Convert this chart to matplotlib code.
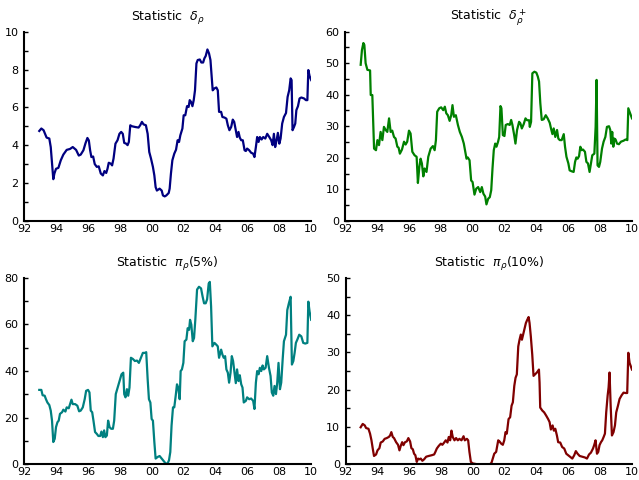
import matplotlib
matplotlib.use("Agg")
import matplotlib.pyplot as plt
from matplotlib.ticker import MultipleLocator, FuncFormatter

# data (decimal year, value)
yr_delta = [1992.94, 1993.07, 1993.21, 1993.40, 1993.57, 1993.66, 1993.76, 1993.82, 1993.89, 1993.99,
            1994.14, 1994.29, 1994.45, 1994.66, 1994.87, 1995.04, 1995.25, 1995.42, 1995.54, 1995.71,
            1995.84, 1995.96, 1996.05, 1996.13, 1996.21, 1996.32, 1996.42, 1996.55, 1996.67, 1996.80,
            1996.93, 1997.03, 1997.14, 1997.22, 1997.30, 1997.43, 1997.51, 1997.60, 1997.72, 1997.85,
            1997.97, 1998.08, 1998.18, 1998.27, 1998.39, 1998.48, 1998.56, 1998.65, 1998.75, 1998.96,
            1999.17, 1999.27, 1999.38, 1999.48, 1999.63, 1999.74, 1999.84, 1999.95, 2000.07, 2000.16,
            2000.24, 2000.32, 2000.49, 2000.62, 2000.70, 2000.81, 2000.91, 2001.06, 2001.12, 2001.20,
            2001.29, 2001.41, 2001.52, 2001.62, 2001.71, 2001.79, 2001.92, 2002.00, 2002.10, 2002.21,
            2002.31, 2002.38, 2002.46, 2002.55, 2002.63, 2002.71, 2002.80, 2002.88, 2003.01, 2003.11,
            2003.22, 2003.30, 2003.38, 2003.49, 2003.59, 2003.68, 2003.76, 2003.82, 2003.93, 2004.05,
            2004.14, 2004.22, 2004.35, 2004.43, 2004.56, 2004.68, 2004.77, 2004.87, 2004.98, 2005.08,
            2005.17, 2005.27, 2005.35, 2005.44, 2005.52, 2005.61, 2005.71, 2005.82, 2005.90, 2005.98,
            2006.11, 2006.23, 2006.36, 2006.44, 2006.53, 2006.61, 2006.70, 2006.78, 2006.89, 2006.99,
            2007.12, 2007.24, 2007.37, 2007.49, 2007.58, 2007.66, 2007.74, 2007.83, 2007.91, 2008.00,
            2008.08, 2008.18, 2008.29, 2008.42, 2008.52, 2008.62, 2008.71, 2008.77, 2008.83, 2008.92,
            2009.00, 2009.07, 2009.17, 2009.27, 2009.38, 2009.55, 2009.67, 2009.76, 2009.82, 2009.90,
            2010.00]
val_delta = [4.75, 4.88, 4.79, 4.4, 4.35, 3.9, 2.85, 2.2, 2.5, 2.75,
             2.8, 3.2, 3.5, 3.75, 3.8, 3.9, 3.75, 3.45, 3.5, 3.73,
             4.1, 4.38, 4.25, 3.73, 3.37, 3.4, 3.0, 2.85, 2.88, 2.5,
             2.4, 2.63, 2.53, 2.75, 3.07, 3.02, 2.93, 3.29, 4.08, 4.26,
             4.6, 4.7, 4.6, 4.12, 4.08, 4.0, 4.17, 5.05, 5.0, 4.96,
             4.93, 5.05, 5.23, 5.1, 5.05, 4.6, 3.64, 3.29, 2.85, 2.4,
             1.78, 1.6, 1.7, 1.6, 1.34, 1.29, 1.34, 1.47, 1.7, 2.49,
             3.2, 3.55, 3.76, 4.26, 4.17, 4.52, 4.88, 5.58, 5.58, 6.06,
             6.02, 6.38, 6.29, 6.06, 6.38, 6.9, 8.32, 8.5, 8.53, 8.37,
             8.37, 8.59, 8.71, 9.06, 8.85, 8.5, 7.61, 6.9, 7.0, 7.05,
             6.9, 5.76, 5.76, 5.49, 5.46, 5.4, 5.05, 4.79, 4.96, 5.35,
             5.23, 4.79, 4.43, 4.7, 4.4, 4.26, 4.26, 3.73, 3.69, 3.82,
             3.73, 3.6, 3.55, 3.37, 3.9, 4.43, 4.17, 4.43, 4.3, 4.43,
             4.35, 4.6, 4.43, 4.26, 4.0, 4.6, 3.9, 4.26, 4.65, 4.08,
             4.35, 5.14, 5.49, 5.7, 6.55, 6.9, 7.53, 7.44, 4.79, 4.96,
             5.14, 5.85, 6.06, 6.47, 6.52, 6.47, 6.38, 6.38, 7.97, 7.65,
             7.44]

yr_dplus = [1992.98, 1993.06, 1993.15, 1993.21, 1993.29, 1993.40, 1993.57, 1993.61, 1993.71, 1993.82,
            1993.94, 1994.03, 1994.13, 1994.23, 1994.34, 1994.44, 1994.55, 1994.65, 1994.76, 1994.86,
            1994.96, 1995.07, 1995.17, 1995.28, 1995.36, 1995.44, 1995.57, 1995.70, 1995.80, 1995.90,
            1996.01, 1996.11, 1996.22, 1996.36, 1996.49, 1996.57, 1996.66, 1996.74, 1996.82, 1996.91,
            1996.99, 1997.11, 1997.22, 1997.37, 1997.51, 1997.62, 1997.70, 1997.78, 1997.91, 1998.03,
            1998.16, 1998.26, 1998.35, 1998.45, 1998.56, 1998.66, 1998.74, 1998.83, 1998.95, 1999.08,
            1999.20, 1999.33, 1999.45, 1999.54, 1999.62, 1999.70, 1999.81, 1999.91, 2000.00, 2000.12,
            2000.23, 2000.35, 2000.48, 2000.58, 2000.68, 2000.79, 2000.87, 2000.98, 2001.08, 2001.17,
            2001.25, 2001.33, 2001.42, 2001.50, 2001.60, 2001.67, 2001.75, 2001.81, 2001.90, 2002.00,
            2002.08, 2002.21, 2002.33, 2002.42, 2002.50, 2002.61, 2002.69, 2002.79, 2002.92, 2003.00,
            2003.09, 2003.21, 2003.32, 2003.42, 2003.55, 2003.59, 2003.67, 2003.75, 2003.88, 2004.00,
            2004.09, 2004.17, 2004.25, 2004.34, 2004.46, 2004.59, 2004.71, 2004.84, 2004.92, 2005.01,
            2005.09, 2005.19, 2005.30, 2005.38, 2005.47, 2005.59, 2005.72, 2005.80, 2005.89, 2006.01,
            2006.09, 2006.22, 2006.34, 2006.43, 2006.51, 2006.59, 2006.68, 2006.76, 2006.84, 2006.93,
            2007.05, 2007.14, 2007.24, 2007.34, 2007.43, 2007.51, 2007.64, 2007.72, 2007.78, 2007.84,
            2007.93, 2008.01, 2008.12, 2008.22, 2008.33, 2008.43, 2008.56, 2008.64, 2008.70, 2008.76,
            2008.83, 2008.89, 2008.97, 2009.06, 2009.18, 2009.31, 2009.47, 2009.60, 2009.71, 2009.77,
            2009.85, 2010.00]
val_dplus = [49.5, 54.2, 56.4, 55.8, 50.0, 47.9, 47.7, 39.9, 39.9, 22.9,
             22.4, 25.6, 24.0, 28.2, 25.6, 29.8, 28.8, 28.2, 32.5, 28.2,
             28.6, 26.6, 26.1, 23.5, 23.2, 21.3, 22.6, 25.1, 24.2, 25.1,
             28.6, 27.7, 21.9, 20.8, 20.3, 12.0, 17.1, 19.7, 18.2, 14.1,
             16.6, 15.5, 20.3, 22.9, 23.7, 22.4, 25.6, 34.6, 35.7, 36.0,
             35.1, 36.2, 34.1, 33.5, 31.7, 33.5, 36.7, 33.0, 33.5, 30.4,
             28.2, 26.6, 24.5, 21.9, 19.7, 20.1, 19.2, 12.8, 12.3, 8.3,
             10.2, 10.7, 9.1, 10.7, 8.6, 7.7, 5.2, 7.0, 7.5, 9.7,
             16.6, 22.4, 24.5, 23.5, 25.1, 26.6, 36.4, 35.7, 27.2, 26.9,
             30.4, 30.7, 30.4, 32.0, 30.4, 27.2, 24.5, 28.8, 31.4, 30.9,
             29.3, 30.7, 32.5, 31.9, 31.9, 29.8, 31.4, 46.8, 47.3, 47.0,
             45.8, 44.2, 37.3, 32.0, 32.2, 33.5, 32.5, 31.1, 29.3, 27.5,
             29.3, 26.6, 28.8, 26.1, 25.6, 25.6, 27.5, 23.5, 20.3, 18.2,
             16.0, 15.7, 15.5, 18.7, 20.1, 19.7, 20.5, 23.5, 22.4, 22.6,
             21.9, 18.7, 18.2, 15.5, 18.2, 20.8, 21.3, 29.8, 44.7, 17.6,
             17.1, 18.7, 22.9, 25.1, 26.6, 29.8, 30.0, 28.8, 24.5, 28.2,
             23.5, 26.1, 25.8, 24.5, 24.3, 25.1, 25.4, 25.8, 25.6, 35.7,
             34.6, 32.5]

yr_pi5 = [1992.94, 1993.07, 1993.15, 1993.28, 1993.36, 1993.45, 1993.57, 1993.66, 1993.74, 1993.82,
          1993.91, 1993.99, 1994.08, 1994.16, 1994.24, 1994.37, 1994.45, 1994.58, 1994.66, 1994.79,
          1994.87, 1994.96, 1995.04, 1995.19, 1995.33, 1995.44, 1995.54, 1995.67, 1995.79, 1995.88,
          1996.00, 1996.09, 1996.17, 1996.26, 1996.34, 1996.44, 1996.55, 1996.65, 1996.76, 1996.84,
          1996.93, 1997.01, 1997.09, 1997.18, 1997.26, 1997.35, 1997.45, 1997.56, 1997.64, 1997.74,
          1997.89, 1998.02, 1998.10, 1998.21, 1998.27, 1998.35, 1998.44, 1998.52, 1998.60, 1998.69,
          1998.81, 1998.94, 1999.07, 1999.19, 1999.32, 1999.44, 1999.57, 1999.65, 1999.74, 1999.82,
          1999.91, 1999.99, 2000.07, 2000.16, 2000.24, 2000.37, 2000.49, 2000.62, 2000.74, 2000.87,
          2000.99, 2001.08, 2001.16, 2001.24, 2001.33, 2001.41, 2001.50, 2001.58, 2001.66, 2001.75,
          2001.81, 2001.89, 2001.98, 2002.06, 2002.17, 2002.25, 2002.34, 2002.40, 2002.48, 2002.57,
          2002.65, 2002.73, 2002.84, 2002.96, 2003.09, 2003.19, 2003.28, 2003.38, 2003.47, 2003.57,
          2003.64, 2003.72, 2003.80, 2003.93, 2004.05, 2004.14, 2004.22, 2004.35, 2004.43, 2004.51,
          2004.60, 2004.68, 2004.77, 2004.85, 2004.94, 2005.02, 2005.10, 2005.19, 2005.27, 2005.35,
          2005.44, 2005.52, 2005.61, 2005.69, 2005.77, 2005.90, 2005.98, 2006.11, 2006.23, 2006.36,
          2006.44, 2006.53, 2006.61, 2006.70, 2006.78, 2006.87, 2006.95, 2007.03, 2007.14, 2007.24,
          2007.35, 2007.45, 2007.53, 2007.62, 2007.70, 2007.79, 2007.87, 2007.95, 2008.04, 2008.12,
          2008.21, 2008.29, 2008.42, 2008.50, 2008.60, 2008.71, 2008.79, 2008.88, 2008.96, 2009.04,
          2009.13, 2009.25, 2009.38, 2009.50, 2009.63, 2009.76, 2009.82, 2009.90, 2010.00]
val_pi5 = [31.9, 31.9, 29.6, 29.4, 27.9, 26.5, 25.4, 23.0, 18.7, 9.5,
           10.9, 15.9, 18.0, 18.7, 21.6, 22.3, 23.4, 22.6, 24.4, 24.0,
           25.8, 27.7, 25.8, 25.8, 25.1, 22.7, 23.0, 24.4, 27.9, 31.5,
           31.9, 30.8, 23.0, 22.3, 18.7, 13.8, 13.0, 12.1, 12.1, 14.0,
           11.6, 14.5, 11.6, 12.3, 18.7, 15.9, 15.2, 15.2, 18.7, 30.1,
           33.6, 36.5, 38.6, 39.3, 30.1, 28.7, 32.2, 29.4, 32.9, 45.7,
           45.2, 44.3, 44.5, 43.5, 45.7, 47.8, 47.8, 48.1, 36.5, 27.9,
           26.5, 19.4, 18.7, 9.5, 2.4, 3.1, 3.5, 2.4, 1.4, 0.3,
           0.3, 1.7, 5.2, 16.6, 24.4, 24.4, 29.4, 34.3, 32.9, 27.9,
           40.0, 40.7, 43.5, 52.8, 53.5, 58.4, 57.7, 62.0, 59.9, 52.8,
           54.2, 62.0, 75.0, 76.2, 75.5, 71.9, 69.1, 69.1, 70.8, 77.6,
           78.3, 67.7, 50.6, 52.1, 51.3, 50.6, 45.7, 49.2, 47.1, 45.7,
           46.4, 40.7, 39.3, 35.0, 39.3, 46.4, 44.3, 39.3, 34.8, 40.7,
           35.7, 38.2, 34.3, 32.9, 26.5, 27.2, 28.7, 27.9, 28.2, 27.2,
           23.7, 35.0, 40.0, 38.6, 41.4, 40.0, 42.4, 40.7, 41.4, 46.4,
           41.4, 37.9, 30.8, 29.4, 33.6, 30.1, 35.0, 43.5, 32.2, 35.0,
           45.0, 52.8, 55.6, 66.2, 69.1, 71.9, 42.8, 44.3, 47.8, 52.1,
           53.5, 55.6, 54.9, 52.1, 51.8, 52.1, 69.8, 65.5, 62.0]

yr_pi10 = [1992.94, 1993.07, 1993.20, 1993.28, 1993.43, 1993.53, 1993.62, 1993.70, 1993.78, 1993.91,
           1994.00, 1994.12, 1994.20, 1994.33, 1994.45, 1994.58, 1994.71, 1994.79, 1994.87, 1994.96,
           1995.04, 1995.17, 1995.29, 1995.38, 1995.46, 1995.55, 1995.63, 1995.73, 1995.84, 1995.94,
           1996.05, 1996.13, 1996.22, 1996.30, 1996.38, 1996.47, 1996.55, 1996.64, 1996.72, 1996.82,
           1996.93, 1997.06, 1997.22, 1997.41, 1997.56, 1997.64, 1997.73, 1997.85, 1997.98, 1998.08,
           1998.19, 1998.29, 1998.40, 1998.48, 1998.57, 1998.65, 1998.73, 1998.84, 1998.94, 1999.05,
           1999.15, 1999.28, 1999.41, 1999.49, 1999.62, 1999.70, 1999.78, 1999.87, 1999.99, 2000.24,
           2000.66, 2001.08, 2001.17, 2001.25, 2001.34, 2001.46, 2001.59, 2001.67, 2001.78, 2001.88,
           2001.97, 2002.05, 2002.13, 2002.24, 2002.34, 2002.43, 2002.51, 2002.60, 2002.68, 2002.76,
           2002.85, 2002.93, 2003.01, 2003.08, 2003.16, 2003.24, 2003.33, 2003.41, 2003.50, 2003.56,
           2003.64, 2003.73, 2003.81, 2003.90, 2004.02, 2004.15, 2004.19, 2004.23, 2004.36, 2004.48,
           2004.61, 2004.73, 2004.82, 2004.90, 2005.01, 2005.09, 2005.18, 2005.28, 2005.36, 2005.49,
           2005.61, 2005.74, 2005.87, 2005.99, 2006.12, 2006.25, 2006.37, 2006.47, 2006.58, 2006.71,
           2006.87, 2007.04, 2007.17, 2007.30, 2007.42, 2007.55, 2007.63, 2007.71, 2007.80, 2007.88,
           2007.96, 2008.05, 2008.13, 2008.22, 2008.30, 2008.38, 2008.47, 2008.53, 2008.59, 2008.66,
           2008.74, 2008.84, 2008.93, 2009.01, 2009.12, 2009.22, 2009.35, 2009.47, 2009.60, 2009.70,
           2009.77, 2009.85, 2010.00]
val_pi10 = [9.9, 10.8, 10.4, 9.7, 9.5, 8.2, 6.4, 4.2, 2.2, 2.6,
            3.7, 4.3, 5.8, 6.1, 6.8, 7.0, 7.3, 7.7, 8.6, 7.3,
            7.0, 5.9, 5.2, 3.7, 4.9, 5.9, 5.1, 5.9, 6.1, 7.0,
            6.1, 4.3, 4.0, 2.8, 2.4, 0.6, 1.5, 1.3, 1.5, 0.9,
            1.3, 2.0, 2.2, 2.4, 2.6, 3.3, 4.2, 4.9, 5.5, 5.2,
            5.8, 6.4, 5.8, 7.3, 6.4, 9.0, 7.3, 6.4, 7.0, 6.4,
            6.8, 6.4, 7.5, 6.4, 6.8, 6.4, 3.3, 0.6, 0.2, 0.0,
            0.0, 0.0, 0.4, 1.5, 2.8, 3.3, 6.4, 6.1, 5.5, 5.2,
            6.4, 8.6, 8.2, 12.1, 12.6, 15.7, 16.6, 21.0, 23.2, 24.1,
            31.6, 33.4, 34.8, 33.4, 34.8, 36.1, 37.9, 38.7, 39.5, 37.9,
            34.3, 29.4, 23.7, 24.1, 24.6, 25.4, 21.9, 15.2, 14.4, 13.9,
            13.0, 12.1, 11.3, 9.3, 10.4, 9.0, 9.5, 7.7, 5.9, 5.8,
            4.6, 4.2, 2.8, 2.4, 2.0, 1.5, 2.4, 3.5, 2.8, 2.2,
            2.0, 1.8, 1.5, 2.6, 3.1, 4.2, 5.2, 6.4, 2.8, 3.3,
            5.1, 5.9, 6.4, 7.3, 8.2, 13.9, 18.4, 20.6, 24.6, 15.7,
            7.7, 8.6, 10.4, 13.9, 15.7, 17.5, 18.5, 19.2, 19.1, 19.1,
            29.9, 27.2, 25.4]

panels = [
    (yr_delta, val_delta, r"Statistic  $\delta_\rho$", "#000080", 10, 2, 1),
    (yr_dplus, val_dplus, r"Statistic  $\delta_\rho^+$", "#008000", 60, 10, 5),
    (yr_pi5, val_pi5, r"Statistic  $\pi_\rho$(5%)", "#008080", 80, 20, 10),
    (yr_pi10, val_pi10, r"Statistic  $\pi_\rho$(10%)", "#800000", 50, 10, 5),
]

# axes boxes in figure fractions (left, bottom, width, height)
boxes = [
    (0.038, 0.540, 0.449, 0.394),
    (0.540, 0.540, 0.449, 0.394),
    (0.038, 0.033, 0.449, 0.388),
    (0.541, 0.033, 0.448, 0.388),
]

fig = plt.figure(figsize=(6.39, 4.8), dpi=100)

for (x, y, title, colour, ymax, major, minor), box in zip(panels, boxes):
    ax = fig.add_axes(box)
    ax.plot(x, y, color=colour, linewidth=1.6)
    ax.set_xlim(1992, 2010)
    ax.set_ylim(0, ymax)
    ax.set_xticks(range(1992, 2011, 2))
    ax.xaxis.set_major_formatter(FuncFormatter(lambda v, p: "%02d" % (int(round(v)) % 100)))
    ax.yaxis.set_major_locator(MultipleLocator(major))
    ax.yaxis.set_minor_locator(MultipleLocator(minor))
    ax.tick_params(axis="x", length=0, pad=2, labelsize=8)
    ax.tick_params(axis="y", which="both", direction="in", length=3, width=1, pad=4, labelsize=8)
    for s in ["top", "right"]:
        ax.spines[s].set_visible(False)
    for s in ["left", "bottom"]:
        ax.spines[s].set_linewidth(1.5)
    ax.set_title(title, fontsize=9, pad=8)

fig.savefig("out.png", dpi=100)
